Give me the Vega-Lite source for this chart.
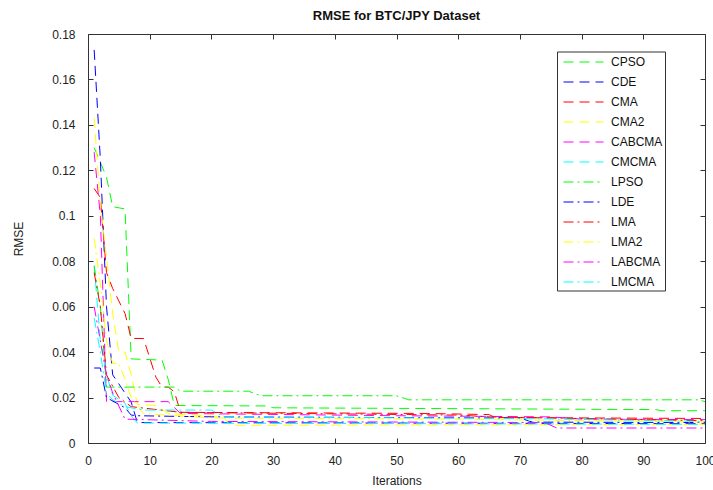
{
  "$schema": "https://vega.github.io/schema/vega-lite/v6.json",
  "autosize": {"type": "none"},
  "width": 617,
  "height": 409,
  "padding": {"left": 88, "top": 34, "right": 8, "bottom": 47},
  "background": "white",
  "config": {
    "font": "Liberation Sans",
    "view": {"stroke": null},
    "axis": {"grid": false, "domainColor": "#333", "tickColor": "#333", "labelColor": "#222", "labelFont": "Liberation Sans", "labelFontSize": 12, "titleFont": "Liberation Sans", "titleFontSize": 12, "titleFontWeight": "normal", "titleColor": "#222", "tickSize": -5, "labelFlush": false, "labelOverlap": false}
  },
  "title": {"text": "RMSE for BTC/JPY Dataset", "fontSize": 13, "fontWeight": "bold", "font": "Liberation Sans", "color": "#111", "offset": 5},
  "data": {"values": [
    {"s":"CPSO","i":1,"v":0.13},{"s":"CPSO","i":3,"v":0.117},{"s":"CPSO","i":4,"v":0.104},{"s":"CPSO","i":6,"v":0.103},{"s":"CPSO","i":7,"v":0.037},{"s":"CPSO","i":12,"v":0.0365},{"s":"CPSO","i":13,"v":0.028},{"s":"CPSO","i":14,"v":0.0165},{"s":"CPSO","i":29,"v":0.0163},{"s":"CPSO","i":30,"v":0.0155},{"s":"CPSO","i":92,"v":0.0147},{"s":"CPSO","i":93,"v":0.0142},{"s":"CPSO","i":100,"v":0.0142},
    {"s":"CDE","i":1,"v":0.173},{"s":"CDE","i":2,"v":0.125},{"s":"CDE","i":3,"v":0.06},{"s":"CDE","i":4,"v":0.03},{"s":"CDE","i":7,"v":0.018},{"s":"CDE","i":8,"v":0.009},{"s":"CDE","i":100,"v":0.0085},
    {"s":"CMA","i":1,"v":0.112},{"s":"CMA","i":2,"v":0.108},{"s":"CMA","i":3,"v":0.075},{"s":"CMA","i":4,"v":0.068},{"s":"CMA","i":6,"v":0.057},{"s":"CMA","i":7,"v":0.046},{"s":"CMA","i":9,"v":0.046},{"s":"CMA","i":11,"v":0.029},{"s":"CMA","i":12,"v":0.0246},{"s":"CMA","i":13,"v":0.0246},{"s":"CMA","i":14,"v":0.0225},{"s":"CMA","i":15,"v":0.0135},{"s":"CMA","i":55,"v":0.013},{"s":"CMA","i":65,"v":0.0125},{"s":"CMA","i":66,"v":0.0112},{"s":"CMA","i":100,"v":0.0108},
    {"s":"CMA2","i":1,"v":0.143},{"s":"CMA2","i":2,"v":0.105},{"s":"CMA2","i":3,"v":0.082},{"s":"CMA2","i":4,"v":0.057},{"s":"CMA2","i":5,"v":0.04},{"s":"CMA2","i":6,"v":0.04},{"s":"CMA2","i":7,"v":0.03},{"s":"CMA2","i":8,"v":0.017},{"s":"CMA2","i":11,"v":0.0165},{"s":"CMA2","i":13,"v":0.013},{"s":"CMA2","i":22,"v":0.0115},{"s":"CMA2","i":23,"v":0.0078},{"s":"CMA2","i":100,"v":0.0082},
    {"s":"CABCMA","i":1,"v":0.128},{"s":"CABCMA","i":2,"v":0.1},{"s":"CABCMA","i":3,"v":0.0182},{"s":"CABCMA","i":13,"v":0.0182},{"s":"CABCMA","i":15,"v":0.013},{"s":"CABCMA","i":50,"v":0.012},{"s":"CABCMA","i":75,"v":0.0115},{"s":"CABCMA","i":80,"v":0.0105},{"s":"CABCMA","i":100,"v":0.0103},
    {"s":"CMCMA","i":1,"v":0.078},{"s":"CMCMA","i":2,"v":0.045},{"s":"CMCMA","i":3,"v":0.03},{"s":"CMCMA","i":4,"v":0.021},{"s":"CMCMA","i":6,"v":0.0175},{"s":"CMCMA","i":7,"v":0.012},{"s":"CMCMA","i":8,"v":0.0088},{"s":"CMCMA","i":100,"v":0.0082},
    {"s":"LPSO","i":1,"v":0.078},{"s":"LPSO","i":2,"v":0.06},{"s":"LPSO","i":3,"v":0.0246},{"s":"LPSO","i":14,"v":0.0246},{"s":"LPSO","i":15,"v":0.0228},{"s":"LPSO","i":26,"v":0.0228},{"s":"LPSO","i":28,"v":0.0208},{"s":"LPSO","i":50,"v":0.0208},{"s":"LPSO","i":52,"v":0.019},{"s":"LPSO","i":99,"v":0.019},{"s":"LPSO","i":100,"v":0.0182},
    {"s":"LDE","i":1,"v":0.033},{"s":"LDE","i":2,"v":0.033},{"s":"LDE","i":3,"v":0.02},{"s":"LDE","i":6,"v":0.0155},{"s":"LDE","i":7,"v":0.0123},{"s":"LDE","i":8,"v":0.012},{"s":"LDE","i":20,"v":0.0115},{"s":"LDE","i":70,"v":0.011},{"s":"LDE","i":72,"v":0.0092},{"s":"LDE","i":100,"v":0.009},
    {"s":"LMA","i":1,"v":0.075},{"s":"LMA","i":2,"v":0.06},{"s":"LMA","i":3,"v":0.03},{"s":"LMA","i":5,"v":0.02},{"s":"LMA","i":7,"v":0.016},{"s":"LMA","i":15,"v":0.0135},{"s":"LMA","i":60,"v":0.0123},{"s":"LMA","i":65,"v":0.0115},{"s":"LMA","i":100,"v":0.0098},
    {"s":"LMA2","i":1,"v":0.09},{"s":"LMA2","i":2,"v":0.07},{"s":"LMA2","i":3,"v":0.045},{"s":"LMA2","i":4,"v":0.035},{"s":"LMA2","i":5,"v":0.035},{"s":"LMA2","i":6,"v":0.028},{"s":"LMA2","i":7,"v":0.02},{"s":"LMA2","i":9,"v":0.013},{"s":"LMA2","i":20,"v":0.011},{"s":"LMA2","i":60,"v":0.0105},{"s":"LMA2","i":100,"v":0.0092},
    {"s":"LABCMA","i":1,"v":0.06},{"s":"LABCMA","i":2,"v":0.045},{"s":"LABCMA","i":3,"v":0.03},{"s":"LABCMA","i":4,"v":0.022},{"s":"LABCMA","i":6,"v":0.0105},{"s":"LABCMA","i":20,"v":0.0095},{"s":"LABCMA","i":74,"v":0.009},{"s":"LABCMA","i":76,"v":0.0066},{"s":"LABCMA","i":100,"v":0.0066},
    {"s":"LMCMA","i":1,"v":0.055},{"s":"LMCMA","i":2,"v":0.04},{"s":"LMCMA","i":3,"v":0.022},{"s":"LMCMA","i":4,"v":0.019},{"s":"LMCMA","i":6,"v":0.016},{"s":"LMCMA","i":9,"v":0.0145},{"s":"LMCMA","i":20,"v":0.0145},{"s":"LMCMA","i":22,"v":0.0115},{"s":"LMCMA","i":70,"v":0.0108},{"s":"LMCMA","i":100,"v":0.0095}
  ]},
  "resolve": {"axis": {"x": "independent", "y": "independent"}},
  "layer": [
    {
      "mark": {"type": "line", "strokeWidth": 1, "clip": true},
      "encoding": {
        "x": {"field": "i", "type": "quantitative", "scale": {"domain": [0, 100], "nice": false}, "axis": {"orient": "bottom", "title": "Iterations", "values": [0,10,20,30,40,50,60,70,80,90,100], "labelPadding": 17, "titlePadding": 9}},
        "y": {"field": "v", "type": "quantitative", "scale": {"domain": [0, 0.18], "nice": false}, "axis": {"orient": "left", "title": "RMSE", "values": [0,0.02,0.04,0.06,0.08,0.1,0.12,0.14,0.16,0.18], "format": "~g", "labelPadding": 18, "titlePadding": 26}},
        "color": {"field": "s", "type": "nominal",
          "scale": {"domain": ["CPSO","CDE","CMA","CMA2","CABCMA","CMCMA","LPSO","LDE","LMA","LMA2","LABCMA","LMCMA"],
                    "range": ["#00ff00","#0000ff","#ff0000","#ffff00","#ff00ff","#00ffff","#00ff00","#0000ff","#ff0000","#ffff00","#ff00ff","#00ffff"]},
          "legend": {"title": null, "orient": "none", "legendX": 469, "legendY": 17.5, "symbolType": "M-0.5,0H4.5", "symbolSize": 256, "symbolStrokeWidth": 1, "rowPadding": 5, "labelFontSize": 12, "labelFont": "Liberation Sans", "labelColor": "#111", "labelOffset": 35, "strokeColor": "#333", "fillColor": "white", "padding": 2, "offset": 0,
            "encoding": {"symbols": {"update": {"stroke": {"scale": "color", "field": "value"}, "strokeDash": {"scale": "strokeDash", "field": "value"}, "opacity": {"value": 1}}}}}},
        "strokeDash": {"field": "s", "type": "nominal", "legend": null,
          "scale": {"domain": ["CPSO","CDE","CMA","CMA2","CABCMA","CMCMA","LPSO","LDE","LMA","LMA2","LABCMA","LMCMA"],
                    "range": [[10,6],[10,6],[10,6],[10,6],[10,6],[10,6],[10,4,2,4],[10,4,2,4],[10,4,2,4],[10,4,2,4],[10,4,2,4],[10,4,2,4]]}},
        "order": {"field": "i", "type": "quantitative"}
      }
    },
    {
      "mark": {"type": "point", "opacity": 0},
      "encoding": {
        "x": {"field": "i", "type": "quantitative", "scale": {"domain": [0, 100], "nice": false}, "axis": {"orient": "top", "labels": false, "title": null, "values": [0,10,20,30,40,50,60,70,80,90,100]}},
        "y": {"field": "v", "type": "quantitative", "scale": {"domain": [0, 0.18], "nice": false}, "axis": {"orient": "right", "labels": false, "title": null, "values": [0,0.02,0.04,0.06,0.08,0.1,0.12,0.14,0.16,0.18]}}
      }
    }
  ]
}
